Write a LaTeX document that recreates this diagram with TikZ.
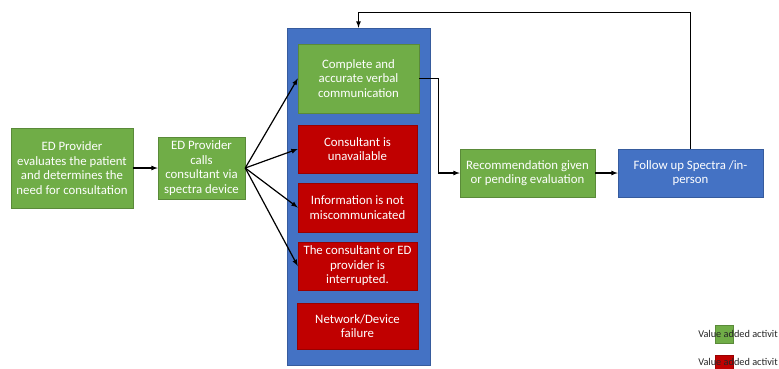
\documentclass[tikz,border=0pt]{standalone}
\usepackage{fontspec}
\setmainfont{Carlito}
\usetikzlibrary{arrows.meta}
\usetikzlibrary{calc}

\definecolor{valgreen}{HTML}{70AD47}
\definecolor{valred}{HTML}{C00000}
\definecolor{valblue}{HTML}{4472C4}

\begin{document}
\begin{tikzpicture}[x=1pt, y=-1pt,
    box/.style={draw=#1!80!black, fill=#1, line width=0.5pt, text=white, align=center,
                inner sep=1pt, font=\fontsize{12.8}{14.5}\selectfont},
    link/.style={line width=1.2pt, -latex},
    legendtxt/.style={font=\fontsize{10.3}{12}\selectfont, text=black!85, anchor=east, inner sep=0pt}]
    \useasboundingbox (0,0) rectangle (779,368);
    \fill[white] (0,0) rectangle (779,368);
    
    \node[box=valgreen, minimum width=122, minimum height=80] (eval) at (72,168)
        {ED Provider\\evaluates the patient\\and determines the\\need for consultation};
    \node[box=valgreen, minimum width=87, minimum height=62] (call) at (201.5,168)
        {ED Provider\\calls\\consultant via\\spectra device};
    
    \node[box=valblue, minimum width=143, minimum height=337] (hub) at (358.5,196.5) {};
    \node[box=valgreen, minimum width=121, minimum height=69] (good) at (358.5,78.5)
        {Complete and\\accurate verbal\\communication};
    \node[box=valred, minimum width=119, minimum height=48] (unavail) at (357.5,149)
        {Consultant is\\unavailable};
    \node[box=valred, minimum width=119, minimum height=49] (miscomm) at (357.5,207.5)
        {Information is not\\miscommunicated};
    \node[box=valred, minimum width=119, minimum height=48] (interrupt) at (357.5,266)
        {The consultant or ED\\provider is\\interrupted.};
    \node[box=valred, minimum width=121, minimum height=46] (failure) at (357.5,326)
        {Network/Device\\failure};
    
    \node[box=valgreen, minimum width=135, minimum height=48] (recomm) at (527.5,173)
        {Recommendation given\\or pending evaluation};
    \node[box=valblue, minimum width=145, minimum height=48] (follow) at (690.5,173)
        {Follow up Spectra /in-\\person};
    
    \draw[link] (eval) -- (call);
    \draw[link] (call.east) -- (good.west);
    \draw[link] (call.east) -- (unavail.west);
    \draw[link] (call.east) -- (miscomm.west);
    \draw[link] (call.east) -- (interrupt.west);
    \draw[link] (good.east) -- ++(19,0) |- (recomm.west);
    \draw[link] (recomm) -- (follow);
    \draw[link] (follow.north) |- ($(hub.north)+(0,-15)$) -- (hub.north);
    
    % legend
    \node[draw=valgreen!80!black, fill=valgreen, minimum size=18, inner sep=0pt] (keyA) at (724,334) {};
    \node[legendtxt] (legA) at (778,334) {Value added activit};
    \begin{scope}
    \clip (0,0) rectangle (779,368);
    \node[draw=valred!80!black, fill=valred, minimum size=18, inner sep=0pt] (keyB) at (724,364) {};
    \end{scope}
    \node[legendtxt] (legB) at (778,362) {Value added activit};
\end{tikzpicture}
\end{document}
